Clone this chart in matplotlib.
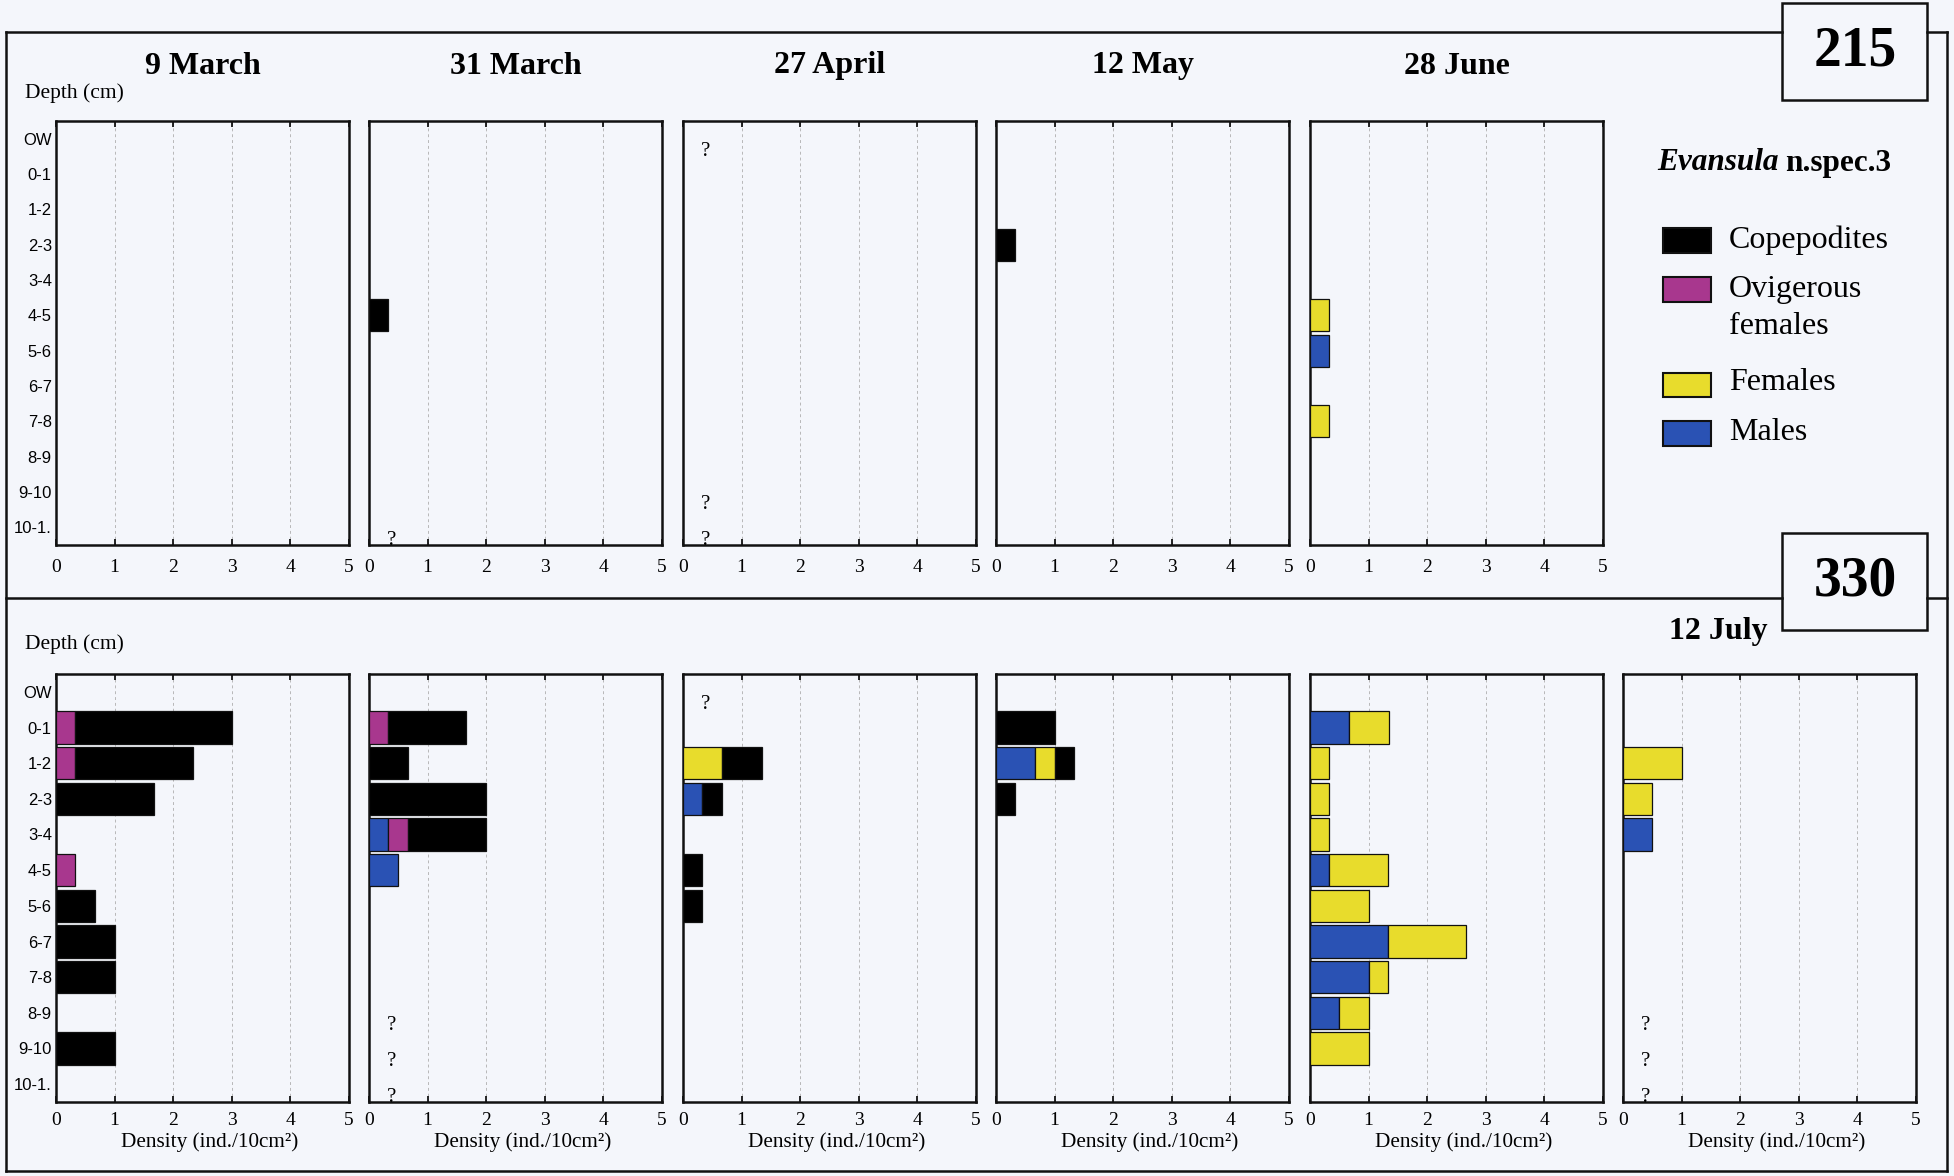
import matplotlib
matplotlib.use("Agg")
import matplotlib.pyplot as plt
from matplotlib.lines import Line2D
from matplotlib.patches import Rectangle
import numpy as np

# ---------------- data ----------------
depths = ["OW", "0-1", "1-2", "2-3", "3-4", "4-5", "5-6", "6-7", "7-8", "8-9", "9-10", "10-1."]
dates_215 = ["9 March", "31 March", "27 April", "12 May", "28 June"]
dates_330 = ["9 March", "31 March", "27 April", "12 May", "28 June", "12 July"]
stages = ["Males", "Females", "Ovigerous females", "Copepodites"]
stage_colors = ["#2a52b4", "#e8dc2c", "#a8378e", "#000000"]
x_ticks = [0, 1, 2, 3, 4, 5]

# site 215 (rows: dates, columns: depths)
males_215 = [
    [0, 0, 0, 0, 0, 0, 0, 0, 0, 0, 0, 0],
    [0, 0, 0, 0, 0, 0, 0, 0, 0, 0, 0, 0],
    [0, 0, 0, 0, 0, 0, 0, 0, 0, 0, 0, 0],
    [0, 0, 0, 0, 0, 0, 0, 0, 0, 0, 0, 0],
    [0, 0, 0, 0, 0, 0, 0.33, 0, 0, 0, 0, 0],
]
females_215 = [
    [0, 0, 0, 0, 0, 0, 0, 0, 0, 0, 0, 0],
    [0, 0, 0, 0, 0, 0, 0, 0, 0, 0, 0, 0],
    [0, 0, 0, 0, 0, 0, 0, 0, 0, 0, 0, 0],
    [0, 0, 0, 0, 0, 0, 0, 0, 0, 0, 0, 0],
    [0, 0, 0, 0, 0, 0.33, 0, 0, 0.33, 0, 0, 0],
]
ovigerous_215 = [
    [0, 0, 0, 0, 0, 0, 0, 0, 0, 0, 0, 0],
    [0, 0, 0, 0, 0, 0, 0, 0, 0, 0, 0, 0],
    [0, 0, 0, 0, 0, 0, 0, 0, 0, 0, 0, 0],
    [0, 0, 0, 0, 0, 0, 0, 0, 0, 0, 0, 0],
    [0, 0, 0, 0, 0, 0, 0, 0, 0, 0, 0, 0],
]
copepodites_215 = [
    [0, 0, 0, 0, 0, 0, 0, 0, 0, 0, 0, 0],
    [0, 0, 0, 0, 0, 0.33, 0, 0, 0, 0, 0, 0],
    [0, 0, 0, 0, 0, 0, 0, 0, 0, 0, 0, 0],
    [0, 0, 0, 0.33, 0, 0, 0, 0, 0, 0, 0, 0],
    [0, 0, 0, 0, 0, 0, 0, 0, 0, 0, 0, 0],
]
unknown_215 = [[], [11], [0, 10, 11], [], []]

# site 330
males_330 = [
    [0, 0, 0, 0, 0, 0, 0, 0, 0, 0, 0, 0],
    [0, 0, 0, 0, 0.33, 0.5, 0, 0, 0, 0, 0, 0],
    [0, 0, 0, 0.33, 0, 0, 0, 0, 0, 0, 0, 0],
    [0, 0, 0.67, 0, 0, 0, 0, 0, 0, 0, 0, 0],
    [0, 0.67, 0, 0, 0, 0.33, 0, 1.33, 1.0, 0.5, 0, 0],
    [0, 0, 0, 0, 0.5, 0, 0, 0, 0, 0, 0, 0],
]
females_330 = [
    [0, 0, 0, 0, 0, 0, 0, 0, 0, 0, 0, 0],
    [0, 0, 0, 0, 0, 0, 0, 0, 0, 0, 0, 0],
    [0, 0, 0.67, 0, 0, 0, 0, 0, 0, 0, 0, 0],
    [0, 0, 0.33, 0, 0, 0, 0, 0, 0, 0, 0, 0],
    [0, 0.67, 0.33, 0.33, 0.33, 1.0, 1.0, 1.33, 0.33, 0.5, 1.0, 0],
    [0, 0, 1.0, 0.5, 0, 0, 0, 0, 0, 0, 0, 0],
]
ovigerous_330 = [
    [0, 0.33, 0.33, 0, 0, 0.33, 0, 0, 0, 0, 0, 0],
    [0, 0.33, 0, 0, 0.33, 0, 0, 0, 0, 0, 0, 0],
    [0, 0, 0, 0, 0, 0, 0, 0, 0, 0, 0, 0],
    [0, 0, 0, 0, 0, 0, 0, 0, 0, 0, 0, 0],
    [0, 0, 0, 0, 0, 0, 0, 0, 0, 0, 0, 0],
    [0, 0, 0, 0, 0, 0, 0, 0, 0, 0, 0, 0],
]
copepodites_330 = [
    [0, 2.67, 2.0, 1.67, 0, 0, 0.67, 1.0, 1.0, 0, 1.0, 0],
    [0, 1.33, 0.67, 2.0, 1.33, 0, 0, 0, 0, 0, 0, 0],
    [0, 0, 0.67, 0.33, 0, 0.33, 0.33, 0, 0, 0, 0, 0],
    [0, 1.0, 0.33, 0.33, 0, 0, 0, 0, 0, 0, 0, 0],
    [0, 0, 0, 0, 0, 0, 0, 0, 0, 0, 0, 0],
    [0, 0, 0, 0, 0, 0, 0, 0, 0, 0, 0, 0],
]
unknown_330 = [[], [9, 10, 11], [0], [], [], [9, 10, 11]]

# ---------------- layout ----------------
W, H = 1954, 1176
BG = "#f4f6fb"
SERIF = ["Liberation Serif", "DejaVu Serif"]
SANS = ["Liberation Sans", "DejaVu Sans"]
plt.rcParams["font.family"] = SERIF

fig = plt.figure(figsize=(W / 100, H / 100), dpi=100, facecolor=BG)


def fx(px):
    return px / W


def fy(py):
    return 1 - py / H


panel_lefts = [56, 369, 683, 996, 1310, 1623]
panel_w = 293
rows_px = [(121, 545), (674, 1102)]


def draw_panel(ax, males, females, ovig, cops, unknown, first, pad):
    y = np.arange(len(depths))
    left = np.zeros(len(depths))
    for vals, col in zip([males, females, ovig, cops], stage_colors):
        v = np.array(vals, dtype=float)
        mask = v > 0
        ax.barh(y[mask], v[mask], left=left[mask], height=0.9, color=col,
                edgecolor="#111111", linewidth=0.9, zorder=3)
        left = left + v
    for r in unknown:
        ax.text(0.38, r + 0.36, "?", ha="center", va="center", fontsize=15,
                family=SERIF, zorder=4)
    ax.set_xlim(0, 5)
    ax.set_ylim(len(depths) - 0.5, -0.5)
    ax.set_facecolor(BG)
    ax.set_xticks(x_ticks)
    ax.set_xticklabels([str(t) for t in x_ticks], family=SERIF, fontsize=14)
    ax.tick_params(axis="x", direction="in", top=True, bottom=True, length=4,
                   width=1.2, pad=pad)
    ax.grid(axis="x", linestyle=(0, (3, 3)), color="#b8b8b8", linewidth=0.7, zorder=0)
    ax.set_yticks(np.arange(len(depths)))
    if first:
        ax.set_yticklabels(depths, family=SANS, fontsize=12)
    else:
        ax.set_yticklabels([])
    ax.tick_params(axis="y", length=0, pad=3)
    for s in ax.spines.values():
        s.set_linewidth(1.8)
        s.set_color("#111111")


# top row: site 215
for i, d in enumerate(dates_215):
    l = panel_lefts[i]
    t, b = rows_px[0]
    ax = fig.add_axes([fx(l), fy(b), fx(panel_w), (b - t) / H])
    draw_panel(ax, males_215[i], females_215[i], ovigerous_215[i], copepodites_215[i],
               unknown_215[i], i == 0, 10)
    fig.text(fx(l + panel_w / 2), fy(66), d, ha="center", va="center",
             fontsize=23, fontweight="bold", family=SERIF)

# bottom row: site 330
for i, d in enumerate(dates_330):
    l = panel_lefts[i]
    t, b = rows_px[1]
    ax = fig.add_axes([fx(l), fy(b), fx(panel_w), (b - t) / H])
    draw_panel(ax, males_330[i], females_330[i], ovigerous_330[i], copepodites_330[i],
               unknown_330[i], i == 0, 7.5)
    ax.set_xlabel("Density (ind./10cm²)", family=SERIF, fontsize=15.3, labelpad=2)
    ax.xaxis.label.set_x(0.5 + 7 / panel_w)
    if d == "12 July":
        fig.text(fx(1718), fy(632), d, ha="center", va="center",
                 fontsize=23, fontweight="bold", family=SERIF)

fig.text(fx(25), fy(93), "Depth (cm)", ha="left", va="center", fontsize=15.5, family=SERIF)
fig.text(fx(25), fy(644), "Depth (cm)", ha="left", va="center", fontsize=15.5, family=SERIF)

# frames
lw = 1.8


def hline(y, x0, x1):
    fig.add_artist(Line2D([fx(x0), fx(x1)], [fy(y), fy(y)], color="#111111", lw=lw))


def vline(x, y0, y1):
    fig.add_artist(Line2D([fx(x), fx(x)], [fy(y0), fy(y1)], color="#111111", lw=lw))


hline(32, 6, 1782)
hline(32, 1927, 1947)
hline(598, 6, 1782)
hline(598, 1927, 1947)
hline(1171, 6, 1947)
vline(6, 32, 1171)
vline(1947, 32, 1171)

for (y0, y1), label in [((3, 100), "215"), ((533, 630), "330")]:
    fig.add_artist(Rectangle((fx(1782), fy(y1)), fx(1927 - 1782), (y1 - y0) / H,
                             transform=fig.transFigure, facecolor=BG,
                             edgecolor="#111111", lw=lw))
    fig.text(fx(1855), fy((y0 + y1) / 2), label, ha="center", va="center",
             fontsize=40, fontweight="bold", family=SERIF)

# legend
tt = fig.text(fx(1657), fy(163), "Evansula", ha="left", va="center", fontsize=22.5,
              fontweight="bold", style="italic", family=SERIF)
fig.canvas.draw()
bb = tt.get_window_extent()
fig.text(bb.x1 / W + fx(7), fy(163), "n.spec.3", ha="left", va="center",
         fontsize=22.5, fontweight="bold", family=SERIF)

legend_rows = [
    ("Copepodites", "#000000", 228, 253, [(240, "Copepodites")]),
    ("Ovigerous females", "#a8378e", 277, 302, [(290, "Ovigerous"), (326, "females")]),
    ("Females", "#e8dc2c", 373, 397, [(382, "Females")]),
    ("Males", "#2a52b4", 421, 446, [(433, "Males")]),
]
for name, col, y0, y1, texts in legend_rows:
    fig.add_artist(Rectangle((fx(1663), fy(y1)), fx(1711 - 1663), (y1 - y0) / H,
                             transform=fig.transFigure, facecolor=col,
                             edgecolor="#111111", lw=1.5))
    for yy, s in texts:
        fig.text(fx(1729), fy(yy), s, ha="left", va="center", fontsize=23, family=SERIF)

fig.savefig("out.png", dpi=100, facecolor=BG)
